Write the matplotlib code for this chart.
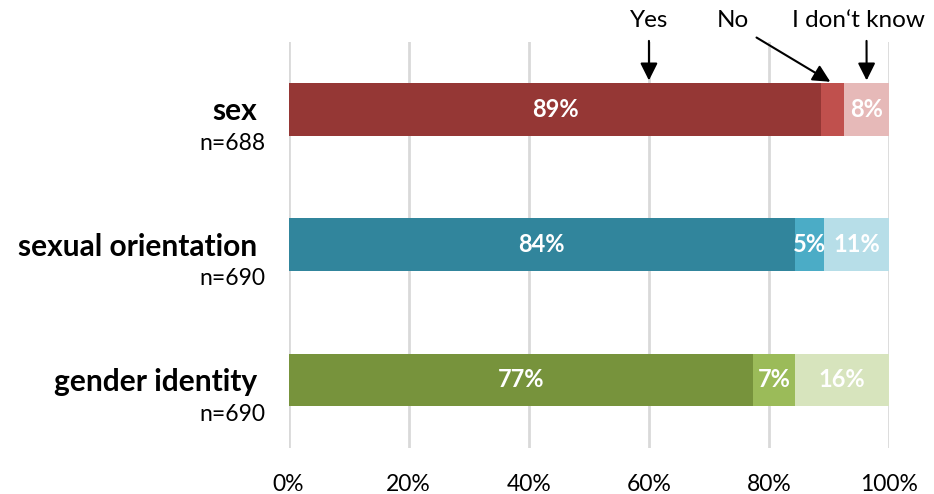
import matplotlib.pyplot as plt
import numpy as np

plt.rcParams['font.family'] = ['Lato', 'DejaVu Sans']

categories = ['sex', 'sexual orientation', 'gender identity']
sample_sizes = ['n=688', 'n=690', 'n=690']
answers = ['Yes', 'No', 'I don\u2018t know']
yes = [88.7, 84.3, 77.3]
no = [3.8, 4.9, 7.0]
dont_know = [7.5, 10.8, 15.7]
yes_labels = ['89%', '84%', '77%']
no_labels = ['', '5%', '7%']
dk_labels = ['8%', '11%', '16%']
ticks = [0, 20, 40, 60, 80, 100]
tick_labels = ['0%', '20%', '40%', '60%', '80%', '100%']

colors = [
    ['#953735', '#C0504D', '#E6B9B8'],
    ['#31859C', '#4BACC6', '#B7DEE8'],
    ['#77933C', '#9BBB59', '#D7E4BD'],
]

fig = plt.figure(figsize=(9.34, 4.94), dpi=100)
ax = fig.add_axes([0.309, 0.094, 0.643, 0.821])

y = np.arange(len(categories))
h = 0.39
for i in range(len(categories)):
    segs = [yes[i], no[i], dont_know[i]]
    labs = [yes_labels[i], no_labels[i], dk_labels[i]]
    left = 0
    for j, (w, lab) in enumerate(zip(segs, labs)):
        ax.barh(y[i], w, left=left, height=h, color=colors[i][j], zorder=2)
        if lab:
            ax.text(left + w / 2, y[i], lab, ha='center', va='center',
                    color='white', fontsize=17, fontweight='bold', zorder=3)
        left += w

ax.set_xlim(0, 100)
ax.set_ylim(len(categories) - 0.5, -0.5)
ax.set_xticks(ticks)
ax.set_xticklabels(tick_labels, fontsize=16.5)
ax.set_yticks([])
ax.tick_params(axis='x', length=0, pad=19)
ax.grid(axis='x', color='#D9D9D9', linewidth=2, zorder=0)
for s in ax.spines.values():
    s.set_visible(False)

# category labels on the left
for i, (cat, n) in enumerate(zip(categories, sample_sizes)):
    ax.text(-5.3, y[i] + 0.08, cat, ha='right', va='baseline',
            fontsize=21.5, fontweight='bold', clip_on=False)
    ax.text(-3.8, y[i] + 0.3, n, ha='right', va='baseline',
            fontsize=16.5, clip_on=False)

# arrows pointing at the first bar
bar_top = y[0] - h / 2
text_y = -0.58
arrow_kw = dict(arrowstyle='-|>,head_length=0.6,head_width=0.3', color='black',
                lw=1.5, shrinkA=5)
ax.annotate(answers[0], xy=(60, bar_top), xytext=(60, text_y), ha='center', va='bottom',
            fontsize=17.5, arrowprops=arrow_kw, annotation_clip=False)
ax.annotate(answers[1], xy=(yes[0] + no[0] / 2, bar_top), xytext=(74, text_y), ha='center',
            va='bottom', fontsize=17.5, arrowprops=dict(arrow_kw, relpos=(0.9, 0.0)),
            annotation_clip=False)
ax.annotate(answers[2], xy=(yes[0] + no[0] + dont_know[0] / 2, bar_top),
            xytext=(94.9, text_y), ha='center', va='bottom', fontsize=17.5,
            arrowprops=dict(arrow_kw, relpos=(0.56, 0.0)), annotation_clip=False)

plt.savefig('out.png', dpi=100)
